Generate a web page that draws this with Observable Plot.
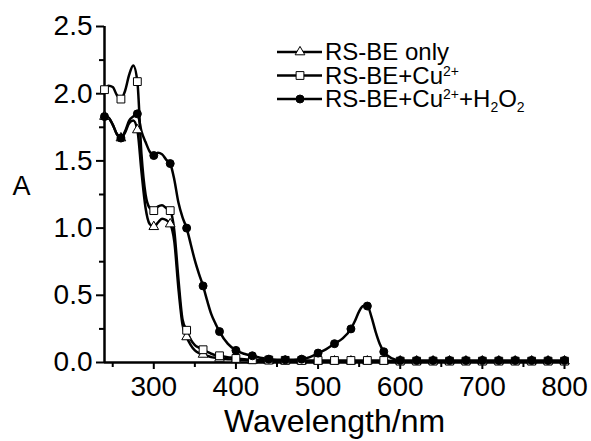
<!DOCTYPE html>
<html><head><meta charset="utf-8">
<script src="https://cdn.jsdelivr.net/npm/d3@7"></script>
<script src="https://cdn.jsdelivr.net/npm/@observablehq/plot@0.6"></script>
<style>
body{margin:0;background:#fff;}
#wrap{position:relative;width:591px;height:441px;}
#legend{position:absolute;left:0;top:0;}
</style>
</head><body><div id="wrap"></div>
<script>
const wavelength = [240,245,250,255,260,265,270,275,280,285,290,295,300,305,310,315,320,325,330,335,340,345,350,355,360,365,370,375,380,390,400,410,420,440,460,480,490,500,510,520,530,540,545,550,555,560,565,570,575,580,590,600,620,640,660,680,700,720,740,760,780,800];
const absOnly  = [1.83,1.82,1.77,1.70,1.67,1.71,1.78,1.80,1.73,1.42,1.15,1.03,1.01,1.04,1.07,1.06,1.03,0.90,0.55,0.28,0.19,0.13,0.09,0.07,0.06,0.05,0.04,0.035,0.03,0.025,0.02,0.018,0.015,0.012,0.01,0.01,0.01,0.01,0.01,0.01,0.01,0.01,0.01,0.01,0.01,0.01,0.01,0.01,0.01,0.01,0.01,0.01,0.01,0.01,0.01,0.01,0.01,0.01,0.01,0.01,0.01,0.01];
const absCu    = [2.03,2.06,2.05,1.99,1.96,2.02,2.14,2.21,2.09,1.55,1.25,1.15,1.13,1.16,1.17,1.15,1.13,0.98,0.62,0.32,0.24,0.17,0.13,0.11,0.095,0.08,0.065,0.055,0.05,0.04,0.03,0.025,0.02,0.018,0.016,0.015,0.015,0.015,0.015,0.015,0.015,0.015,0.015,0.015,0.015,0.015,0.015,0.015,0.015,0.015,0.012,0.01,0.01,0.01,0.01,0.01,0.01,0.01,0.01,0.01,0.01,0.01];
const absCuH2O2= [1.83,1.82,1.77,1.70,1.67,1.72,1.80,1.83,1.85,1.72,1.64,1.57,1.54,1.56,1.55,1.51,1.48,1.36,1.19,1.08,1.00,0.88,0.76,0.66,0.57,0.46,0.36,0.29,0.23,0.14,0.09,0.065,0.05,0.025,0.02,0.025,0.04,0.07,0.10,0.14,0.18,0.25,0.31,0.38,0.42,0.42,0.34,0.23,0.14,0.08,0.03,0.015,0.015,0.015,0.015,0.015,0.015,0.015,0.015,0.015,0.015,0.015];
const seriesNames = ["RS-BE only","RS-BE+Cu2+","RS-BE+Cu2++H2O2"];
const seriesSymbols = ["triangle","square","circle"];
const seriesFills = ["white","white","black"];
const seriesRadius = [3.6,4.4,4];
const markerStep = 20;
const yTicks = [0,0.5,1.0,1.5,2.0,2.5];
const yMinor = [0.25,0.75,1.25,1.75,2.25];
const xTicks = [300,400,500,600,700,800];
const xMinor = [250,350,450,550,650,750];
const xLabel = "Wavelength/nm";
const yLabel = "A";

const seriesValues = [absOnly, absCu, absCuH2O2];
const rows = [];
seriesValues.forEach((vals, s) => vals.forEach((v, i) => rows.push({series: s, wl: wavelength[i], a: v})));
const markerRows = rows.filter(d => d.wl % markerStep === 0);

const font = "'Liberation Sans', Arial, sans-serif";
const marks = [
  Plot.axisY({ticks: yTicks, tickSize: 8, tickPadding: 4, tickFormat: d3.format(".1f"), fontSize: 28, strokeWidth: 2, label: null}),
  Plot.axisY({ticks: yMinor, tickSize: 5, strokeWidth: 2, text: null, label: null}),
  Plot.axisX({ticks: xTicks, tickSize: 7, tickPadding: 7, tickFormat: d3.format("d"), fontSize: 28, strokeWidth: 2, label: null}),
  Plot.axisX({ticks: xMinor, tickSize: 5, strokeWidth: 2, text: null, label: null}),
  Plot.ruleX([240], {strokeWidth: 2.5}),
  Plot.ruleY([0], {strokeWidth: 2.5})
];
[0,1,2].forEach(s => {
  marks.push(Plot.line(rows.filter(d => d.series === s), {x: "wl", y: "a", stroke: "black", strokeWidth: 2.5, curve: "monotone-x"}));
});
[0,1,2].forEach(s => {
  marks.push(Plot.dot(markerRows.filter(d => d.series === s), {x: "wl", y: "a", symbol: () => seriesSymbols[s], r: seriesRadius[s], fill: seriesFills[s], stroke: "black", strokeWidth: 1}));
});
marks.push(Plot.text([xLabel], {text: d => d, frameAnchor: "bottom", lineAnchor: "middle", dy: 59, fontSize: 32}));
marks.push(Plot.text([yLabel], {text: d => d, frameAnchor: "left", lineAnchor: "middle", textAnchor: "start", dx: -92, dy: -8, fontSize: 27}));

const chart = Plot.plot({
  width: 591, height: 441,
  marginLeft: 104, marginRight: 27, marginTop: 26, marginBottom: 79,
  x: {domain: [240, 800]},
  y: {domain: [0, 2.5]},
  style: {fontFamily: font, background: "white", color: "black", overflow: "visible"},
  marks
});
const wrap = document.getElementById("wrap");
wrap.appendChild(chart);

// legend overlay
const leg = d3.select(wrap).append("svg").attr("id","legend").attr("width",591).attr("height",441);
const parts = [
  [["RS-BE only"]],
  [["RS-BE+Cu"],["2+","sup"]],
  [["RS-BE+Cu"],["2+","sup"],["+H"],["2","sub"],["O"],["2","sub"]]
];
const symTypes = {triangle: d3.symbolTriangle, square: d3.symbolSquare, circle: d3.symbolCircle};
seriesNames.forEach((name, i) => {
  const cy = 52 + i * 23.5;
  const g = leg.append("g");
  g.append("line").attr("x1",277).attr("x2",322).attr("y1",cy).attr("y2",cy).attr("stroke","black").attr("stroke-width",2.5);
  g.append("path").attr("d", d3.symbol(symTypes[seriesSymbols[i]], Math.PI*seriesRadius[i]*seriesRadius[i])())
    .attr("transform",`translate(300,${cy})`).attr("fill",seriesFills[i]).attr("stroke","black");
  const t = g.append("text").attr("x",325).attr("y",cy+8).attr("font-family",font).attr("font-size",24).attr("fill","black");
  let shift = 0;
  parts[i].forEach(([txt, kind]) => {
    const target = kind === "sup" ? -8 : kind === "sub" ? 5 : 0;
    const sp = t.append("tspan").text(txt).attr("dy", target - shift);
    if (kind) sp.attr("font-size", 14);
    shift = target;
  });
});
</script></body></html>
